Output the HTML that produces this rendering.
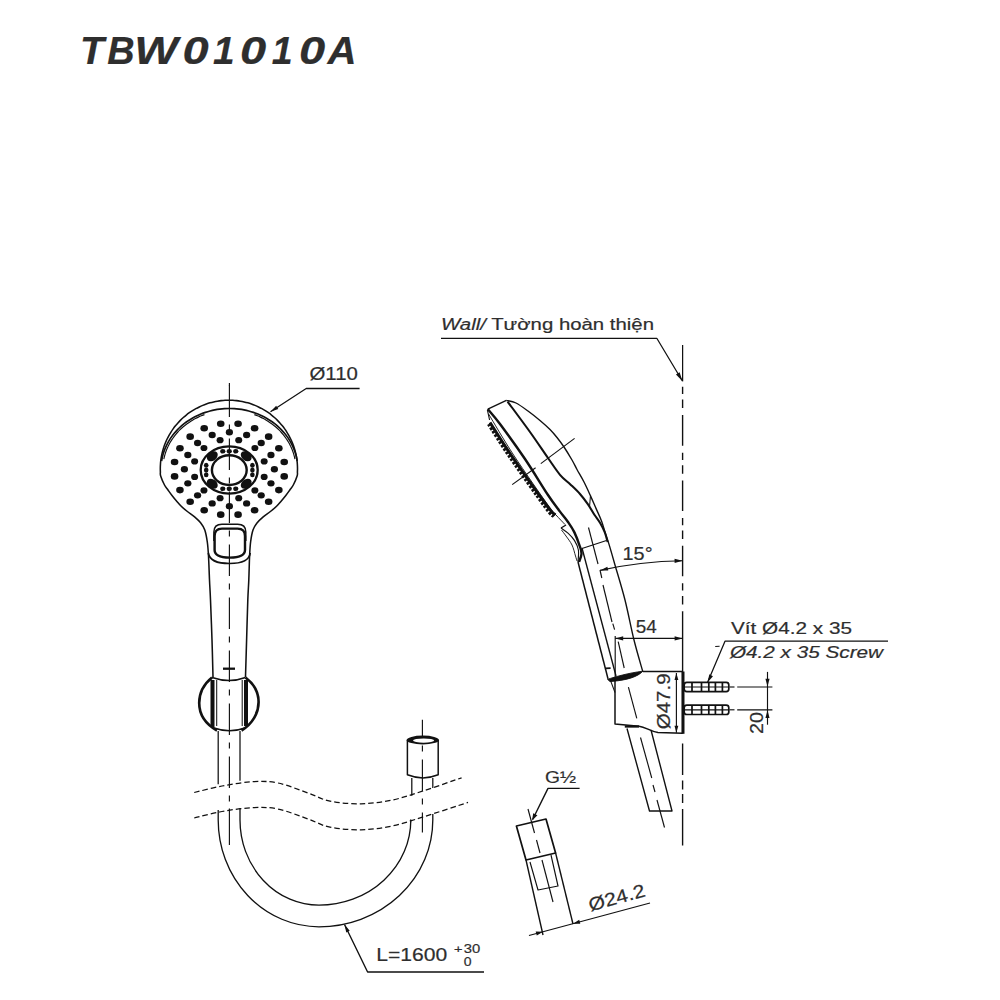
<!DOCTYPE html>
<html><head><meta charset="utf-8"><style>
html,body{margin:0;padding:0;background:#fff;}
svg{display:block;}
text{font-family:"Liberation Sans",sans-serif;fill:#2e2e2e;stroke:#2e2e2e;stroke-width:0.2px;}
</style></head><body>
<svg width="1000" height="1000" viewBox="0 0 1000 1000">
<g fill="none" stroke="#111" stroke-linecap="butt" stroke-linejoin="round">
<line x1="229.4" y1="385.6" x2="229.4" y2="805" stroke-width="1.15" stroke-dasharray="31.5 7.5 6 8"/>
<line x1="229.4" y1="808.5" x2="229.4" y2="845" stroke-width="1.15" />
<line x1="229.4" y1="383" x2="229.4" y2="386" stroke-width="1.15" />
<path d="M213,677 C212.83,670.83 212.42,652.83 212,640 C211.58,627.17 210.92,610 210.5,600 C210.08,590 209.83,587.33 209.5,580 C209.17,572.67 208.87,562.33 208.5,556 C208.13,549.67 207.92,546.33 207.3,542 C206.68,537.67 205.92,533.2 204.8,530 C203.68,526.8 202.3,525 200.6,522.8 C198.9,520.6 196.8,518.68 194.6,516.8 C192.4,514.92 189.67,513.3 187.4,511.5 C185.13,509.7 182.82,507.75 181,506 C179.18,504.25 178,502.75 176.5,501 C175,499.25 173.42,497.33 172,495.5 C170.58,493.67 169.25,491.75 168,490 C166.75,488.25 165.72,487.34 164.5,485 C163.28,482.66 161.36,478.11 160.68,475.97 C159.99,473.83 160.44,473.43 160.38,472.15 C160.32,470.88 160.29,469.6 160.3,468.32 C160.31,467.04 160.36,465.77 160.44,464.49 C160.52,463.22 160.63,461.94 160.78,460.68 C160.93,459.41 161.12,458.14 161.34,456.89 C161.56,455.63 161.82,454.38 162.11,453.14 C162.4,451.89 162.73,450.66 163.09,449.43 C163.45,448.21 163.85,446.99 164.27,445.79 C164.7,444.59 165.17,443.39 165.66,442.22 C166.15,441.04 166.68,439.88 167.24,438.73 C167.8,437.58 168.39,436.45 169.02,435.33 C169.64,434.22 170.3,433.12 170.98,432.04 C171.66,430.96 172.38,429.9 173.12,428.87 C173.86,427.83 174.64,426.81 175.44,425.81 C176.24,424.82 177.07,423.85 177.92,422.9 C178.77,421.95 179.66,421.02 180.56,420.12 C181.47,419.22 182.4,418.35 183.35,417.5 C184.31,416.65 185.29,415.83 186.29,415.04 C187.29,414.25 188.31,413.48 189.36,412.74 C190.4,412.01 191.47,411.3 192.55,410.62 C193.63,409.95 194.73,409.3 195.85,408.69 C196.97,408.07 198.11,407.49 199.26,406.93 C200.41,406.38 201.58,405.86 202.76,405.38 C203.94,404.89 205.13,404.44 206.34,404.02 C207.55,403.6 208.76,403.21 209.99,402.86 C211.22,402.51 212.46,402.19 213.7,401.9 C214.95,401.62 216.2,401.37 217.46,401.16 C218.72,400.95 219.98,400.77 221.25,400.63 C222.52,400.49 223.8,400.38 225.07,400.31 C226.35,400.24 227.62,400.2 228.9,400.2 C230.18,400.2 231.45,400.24 232.73,400.31 C234,400.38 235.28,400.49 236.55,400.63 C237.82,400.77 239.08,400.95 240.34,401.16 C241.6,401.37 242.85,401.62 244.1,401.9 C245.34,402.19 246.58,402.51 247.81,402.86 C249.04,403.21 250.25,403.6 251.46,404.02 C252.67,404.44 253.86,404.89 255.04,405.38 C256.22,405.86 257.39,406.38 258.54,406.93 C259.69,407.49 260.83,408.07 261.95,408.69 C263.07,409.3 264.17,409.95 265.25,410.62 C266.33,411.3 267.4,412.01 268.44,412.74 C269.49,413.48 270.51,414.25 271.51,415.04 C272.51,415.83 273.49,416.65 274.45,417.5 C275.4,418.35 276.33,419.22 277.24,420.12 C278.14,421.02 279.03,421.95 279.88,422.9 C280.73,423.85 281.56,424.82 282.36,425.81 C283.16,426.81 283.94,427.83 284.68,428.87 C285.42,429.9 286.14,430.96 286.82,432.04 C287.5,433.12 288.16,434.22 288.78,435.33 C289.41,436.45 290,437.58 290.56,438.73 C291.12,439.88 291.65,441.04 292.14,442.22 C292.63,443.39 293.1,444.59 293.53,445.79 C293.95,446.99 294.35,448.21 294.71,449.43 C295.07,450.66 295.4,451.89 295.69,453.14 C295.98,454.38 296.24,455.63 296.46,456.89 C296.68,458.14 296.87,459.41 297.02,460.68 C297.17,461.94 297.28,463.22 297.36,464.49 C297.44,465.77 297.49,467.04 297.5,468.32 C297.51,469.6 297.48,470.88 297.42,472.15 C297.36,473.43 297.81,473.83 297.12,475.97 C296.44,478.11 294.52,482.66 293.3,485 C292.08,487.34 291.05,488.25 289.8,490 C288.55,491.75 287.22,493.67 285.8,495.5 C284.38,497.33 282.8,499.25 281.3,501 C279.8,502.75 278.62,504.25 276.8,506 C274.98,507.75 272.67,509.7 270.4,511.5 C268.13,513.3 265.4,514.92 263.2,516.8 C261,518.68 258.9,520.6 257.2,522.8 C255.5,525 254.1,526.8 253,530 C251.9,533.2 251.17,537.67 250.6,542 C250.03,546.33 249.9,549.67 249.6,556 C249.3,562.33 249.1,572.67 248.8,580 C248.5,587.33 248.17,590 247.8,600 C247.43,610 246.98,627.17 246.6,640 C246.22,652.83 245.68,670.83 245.5,677" stroke-width="1.55" />
<path d="M161.57,461.01 C161.71,460.29 162.08,458.13 162.42,456.71 C162.76,455.29 163.16,453.88 163.62,452.48 C164.08,451.09 164.59,449.7 165.15,448.34 C165.72,446.97 166.34,445.62 167.02,444.3 C167.69,442.98 168.42,441.67 169.2,440.39 C169.98,439.12 170.81,437.86 171.69,436.63 C172.57,435.41 173.5,434.21 174.48,433.04 C175.45,431.88 176.48,430.74 177.55,429.64 C178.61,428.54 179.73,427.47 180.88,426.44 C182.03,425.41 183.23,424.42 184.46,423.46 C185.69,422.51 186.97,421.59 188.27,420.72 C189.58,419.85 190.92,419.01 192.29,418.23 C193.67,417.44 195.07,416.69 196.5,415.99 C197.94,415.3 199.4,414.64 200.88,414.04 C202.37,413.43 203.88,412.87 205.41,412.36 C206.94,411.85 208.49,411.39 210.06,410.98 C211.63,410.57 213.21,410.21 214.81,409.9 C216.4,409.59 218.01,409.33 219.63,409.12 C221.25,408.92 222.87,408.76 224.5,408.66 C226.13,408.55 227.77,408.5 229.4,408.5 C231.03,408.5 232.67,408.55 234.3,408.66 C235.93,408.76 237.55,408.92 239.17,409.12 C240.79,409.33 242.4,409.59 243.99,409.9 C245.59,410.21 247.17,410.57 248.74,410.98 C250.31,411.39 251.86,411.85 253.39,412.36 C254.92,412.87 256.43,413.43 257.92,414.04 C259.4,414.64 260.86,415.3 262.3,415.99 C263.73,416.69 265.13,417.44 266.51,418.23 C267.88,419.01 269.22,419.85 270.53,420.72 C271.83,421.59 273.11,422.51 274.34,423.46 C275.57,424.42 276.77,425.41 277.92,426.44 C279.07,427.47 280.19,428.54 281.25,429.64 C282.32,430.74 283.35,431.88 284.32,433.04 C285.3,434.21 286.23,435.41 287.11,436.63 C287.99,437.86 288.82,439.12 289.6,440.39 C290.38,441.67 291.11,442.98 291.78,444.3 C292.46,445.62 293.08,446.97 293.65,448.34 C294.21,449.7 294.72,451.09 295.18,452.48 C295.64,453.88 296.04,455.29 296.38,456.71 C296.72,458.13 297.09,460.29 297.23,461.01" stroke-width="1.67" />
<path d="M204.45,414.61 C203.94,414.81 202.38,415.38 201.36,415.8 C200.34,416.22 199.33,416.67 198.34,417.13 C197.35,417.6 196.36,418.09 195.4,418.6 C194.43,419.11 193.48,419.64 192.54,420.19 C191.61,420.74 190.69,421.32 189.78,421.91 C188.88,422.51 187.99,423.12 187.13,423.75 C186.26,424.39 185.41,425.04 184.58,425.71 C183.75,426.39 182.93,427.08 182.14,427.79 C181.35,428.49 180.58,429.22 179.83,429.96 C179.08,430.71 178.35,431.47 177.64,432.24 C176.94,433.02 176.25,433.81 175.59,434.62 C174.93,435.43 174.29,436.25 173.67,437.08 C173.06,437.92 172.46,438.77 171.9,439.63 C171.33,440.49 170.79,441.37 170.27,442.26 C169.75,443.14 169.26,444.04 168.8,444.95 C168.33,445.86 167.89,446.78 167.48,447.71 C167.06,448.64 166.68,449.57 166.32,450.52 C165.96,451.47 165.62,452.42 165.32,453.38 C165.01,454.34 164.73,455.31 164.48,456.28 C164.23,457.26 163.92,458.73 163.81,459.22" stroke-width="1.15" />
<path d="M254.35,414.61 C254.86,414.81 256.42,415.38 257.44,415.8 C258.46,416.22 259.47,416.67 260.46,417.13 C261.45,417.6 262.44,418.09 263.4,418.6 C264.37,419.11 265.32,419.64 266.26,420.19 C267.19,420.74 268.11,421.32 269.02,421.91 C269.92,422.51 270.81,423.12 271.67,423.75 C272.54,424.39 273.39,425.04 274.22,425.71 C275.05,426.39 275.87,427.08 276.66,427.79 C277.45,428.49 278.22,429.22 278.97,429.96 C279.72,430.71 280.45,431.47 281.16,432.24 C281.86,433.02 282.55,433.81 283.21,434.62 C283.87,435.43 284.51,436.25 285.13,437.08 C285.74,437.92 286.34,438.77 286.9,439.63 C287.47,440.49 288.01,441.37 288.53,442.26 C289.05,443.14 289.54,444.04 290,444.95 C290.47,445.86 290.91,446.78 291.32,447.71 C291.74,448.64 292.12,449.57 292.48,450.52 C292.84,451.47 293.18,452.42 293.48,453.38 C293.79,454.34 294.07,455.31 294.32,456.28 C294.57,457.26 294.88,458.73 294.99,459.22" stroke-width="1.15" />
<ellipse cx="238.08" cy="423.77" rx="3.8" ry="3.3" fill="#111" stroke="none" transform="rotate(0 238.08 423.77)"/>
<ellipse cx="254.6" cy="428.21" rx="3.8" ry="3.3" fill="#111" stroke="none" transform="rotate(0 254.6 428.21)"/>
<ellipse cx="268.64" cy="436.67" rx="3.8" ry="3.3" fill="#111" stroke="none" transform="rotate(0 268.64 436.67)"/>
<ellipse cx="278.85" cy="448.32" rx="3.8" ry="3.3" fill="#111" stroke="none" transform="rotate(0 278.85 448.32)"/>
<ellipse cx="284.22" cy="462" rx="3.8" ry="3.3" fill="#111" stroke="none" transform="rotate(0 284.22 462)"/>
<ellipse cx="284.22" cy="476.4" rx="3.8" ry="3.3" fill="#111" stroke="none" transform="rotate(0 284.22 476.4)"/>
<ellipse cx="278.85" cy="490.08" rx="3.8" ry="3.3" fill="#111" stroke="none" transform="rotate(0 278.85 490.08)"/>
<ellipse cx="268.64" cy="501.73" rx="3.8" ry="3.3" fill="#111" stroke="none" transform="rotate(0 268.64 501.73)"/>
<ellipse cx="254.6" cy="510.19" rx="3.8" ry="3.3" fill="#111" stroke="none" transform="rotate(0 254.6 510.19)"/>
<ellipse cx="238.08" cy="514.63" rx="3.8" ry="3.3" fill="#111" stroke="none" transform="rotate(0 238.08 514.63)"/>
<ellipse cx="220.72" cy="514.63" rx="3.8" ry="3.3" fill="#111" stroke="none" transform="rotate(0 220.72 514.63)"/>
<ellipse cx="204.2" cy="510.19" rx="3.8" ry="3.3" fill="#111" stroke="none" transform="rotate(0 204.2 510.19)"/>
<ellipse cx="190.16" cy="501.73" rx="3.8" ry="3.3" fill="#111" stroke="none" transform="rotate(0 190.16 501.73)"/>
<ellipse cx="179.95" cy="490.08" rx="3.8" ry="3.3" fill="#111" stroke="none" transform="rotate(0 179.95 490.08)"/>
<ellipse cx="174.58" cy="476.4" rx="3.8" ry="3.3" fill="#111" stroke="none" transform="rotate(0 174.58 476.4)"/>
<ellipse cx="174.58" cy="462" rx="3.8" ry="3.3" fill="#111" stroke="none" transform="rotate(0 174.58 462)"/>
<ellipse cx="179.95" cy="448.32" rx="3.8" ry="3.3" fill="#111" stroke="none" transform="rotate(0 179.95 448.32)"/>
<ellipse cx="190.16" cy="436.67" rx="3.8" ry="3.3" fill="#111" stroke="none" transform="rotate(0 190.16 436.67)"/>
<ellipse cx="204.2" cy="428.21" rx="3.8" ry="3.3" fill="#111" stroke="none" transform="rotate(0 204.2 428.21)"/>
<ellipse cx="220.72" cy="423.77" rx="3.8" ry="3.3" fill="#111" stroke="none" transform="rotate(0 220.72 423.77)"/>
<ellipse cx="229.4" cy="432.2" rx="3.6" ry="3.2" fill="#111" stroke="none" transform="rotate(0 229.4 432.2)"/>
<ellipse cx="246.62" cy="435.02" rx="3.6" ry="3.2" fill="#111" stroke="none" transform="rotate(0 246.62 435.02)"/>
<ellipse cx="261.22" cy="443.04" rx="3.6" ry="3.2" fill="#111" stroke="none" transform="rotate(0 261.22 443.04)"/>
<ellipse cx="270.97" cy="455.04" rx="3.6" ry="3.2" fill="#111" stroke="none" transform="rotate(0 270.97 455.04)"/>
<ellipse cx="274.4" cy="469.2" rx="3.6" ry="3.2" fill="#111" stroke="none" transform="rotate(0 274.4 469.2)"/>
<ellipse cx="270.97" cy="483.36" rx="3.6" ry="3.2" fill="#111" stroke="none" transform="rotate(0 270.97 483.36)"/>
<ellipse cx="261.22" cy="495.36" rx="3.6" ry="3.2" fill="#111" stroke="none" transform="rotate(0 261.22 495.36)"/>
<ellipse cx="246.62" cy="503.38" rx="3.6" ry="3.2" fill="#111" stroke="none" transform="rotate(0 246.62 503.38)"/>
<ellipse cx="229.4" cy="506.2" rx="3.6" ry="3.2" fill="#111" stroke="none" transform="rotate(0 229.4 506.2)"/>
<ellipse cx="212.18" cy="503.38" rx="3.6" ry="3.2" fill="#111" stroke="none" transform="rotate(0 212.18 503.38)"/>
<ellipse cx="197.58" cy="495.36" rx="3.6" ry="3.2" fill="#111" stroke="none" transform="rotate(0 197.58 495.36)"/>
<ellipse cx="187.83" cy="483.36" rx="3.6" ry="3.2" fill="#111" stroke="none" transform="rotate(0 187.83 483.36)"/>
<ellipse cx="184.4" cy="469.2" rx="3.6" ry="3.2" fill="#111" stroke="none" transform="rotate(0 184.4 469.2)"/>
<ellipse cx="187.83" cy="455.04" rx="3.6" ry="3.2" fill="#111" stroke="none" transform="rotate(0 187.83 455.04)"/>
<ellipse cx="197.58" cy="443.04" rx="3.6" ry="3.2" fill="#111" stroke="none" transform="rotate(0 197.58 443.04)"/>
<ellipse cx="212.18" cy="435.02" rx="3.6" ry="3.2" fill="#111" stroke="none" transform="rotate(0 212.18 435.02)"/>
<ellipse cx="238.72" cy="440.22" rx="3.5" ry="3.1" fill="#111" stroke="none" transform="rotate(0 238.72 440.22)"/>
<ellipse cx="254.86" cy="447.99" rx="3.5" ry="3.1" fill="#111" stroke="none" transform="rotate(0 254.86 447.99)"/>
<ellipse cx="264.17" cy="461.44" rx="3.5" ry="3.1" fill="#111" stroke="none" transform="rotate(0 264.17 461.44)"/>
<ellipse cx="264.17" cy="476.96" rx="3.5" ry="3.1" fill="#111" stroke="none" transform="rotate(0 264.17 476.96)"/>
<ellipse cx="254.86" cy="490.41" rx="3.5" ry="3.1" fill="#111" stroke="none" transform="rotate(0 254.86 490.41)"/>
<ellipse cx="238.72" cy="498.18" rx="3.5" ry="3.1" fill="#111" stroke="none" transform="rotate(0 238.72 498.18)"/>
<ellipse cx="220.08" cy="498.18" rx="3.5" ry="3.1" fill="#111" stroke="none" transform="rotate(0 220.08 498.18)"/>
<ellipse cx="203.94" cy="490.41" rx="3.5" ry="3.1" fill="#111" stroke="none" transform="rotate(0 203.94 490.41)"/>
<ellipse cx="194.63" cy="476.96" rx="3.5" ry="3.1" fill="#111" stroke="none" transform="rotate(0 194.63 476.96)"/>
<ellipse cx="194.63" cy="461.44" rx="3.5" ry="3.1" fill="#111" stroke="none" transform="rotate(0 194.63 461.44)"/>
<ellipse cx="203.94" cy="447.99" rx="3.5" ry="3.1" fill="#111" stroke="none" transform="rotate(0 203.94 447.99)"/>
<ellipse cx="220.08" cy="440.22" rx="3.5" ry="3.1" fill="#111" stroke="none" transform="rotate(0 220.08 440.22)"/>
<ellipse cx="229.2" cy="470" rx="28.5" ry="23.6" stroke-width="2.3" />
<ellipse cx="229.3" cy="470.1" rx="17.4" ry="14.9" stroke-width="2.42" />
<ellipse cx="212.3" cy="456.2" rx="6" ry="4.4" fill="#111" stroke="none" transform="rotate(-38 212.3 456.2)"/>
<ellipse cx="246.2" cy="456.2" rx="6" ry="4.4" fill="#111" stroke="none" transform="rotate(38 246.2 456.2)"/>
<ellipse cx="212.3" cy="483.8" rx="6" ry="4.4" fill="#111" stroke="none" transform="rotate(38 212.3 483.8)"/>
<ellipse cx="246.2" cy="483.8" rx="6" ry="4.4" fill="#111" stroke="none" transform="rotate(-38 246.2 483.8)"/>
<ellipse cx="222.8" cy="451.3" rx="2.6" ry="2.3" fill="#111" stroke="none" transform="rotate(0 222.8 451.3)"/>
<ellipse cx="222.8" cy="488.8" rx="2.6" ry="2.3" fill="#111" stroke="none" transform="rotate(0 222.8 488.8)"/>
<ellipse cx="229.3" cy="451.3" rx="2.6" ry="2.3" fill="#111" stroke="none" transform="rotate(0 229.3 451.3)"/>
<ellipse cx="229.3" cy="488.8" rx="2.6" ry="2.3" fill="#111" stroke="none" transform="rotate(0 229.3 488.8)"/>
<ellipse cx="235.8" cy="451.3" rx="2.6" ry="2.3" fill="#111" stroke="none" transform="rotate(0 235.8 451.3)"/>
<ellipse cx="235.8" cy="488.8" rx="2.6" ry="2.3" fill="#111" stroke="none" transform="rotate(0 235.8 488.8)"/>
<ellipse cx="206.2" cy="465.2" rx="2.3" ry="2.5" fill="#111" stroke="none" transform="rotate(0 206.2 465.2)"/>
<ellipse cx="252.4" cy="465.2" rx="2.3" ry="2.5" fill="#111" stroke="none" transform="rotate(0 252.4 465.2)"/>
<ellipse cx="206.2" cy="470" rx="2.3" ry="2.5" fill="#111" stroke="none" transform="rotate(0 206.2 470)"/>
<ellipse cx="252.4" cy="470" rx="2.3" ry="2.5" fill="#111" stroke="none" transform="rotate(0 252.4 470)"/>
<ellipse cx="206.2" cy="474.8" rx="2.3" ry="2.5" fill="#111" stroke="none" transform="rotate(0 206.2 474.8)"/>
<ellipse cx="252.4" cy="474.8" rx="2.3" ry="2.5" fill="#111" stroke="none" transform="rotate(0 252.4 474.8)"/>
<path d="M222,528.6 L237.6,528.6 Q245,528.6 245,536 L245,550 Q245,557.6 229.8,557.6 Q214.6,557.6 214.6,550 L214.6,536 Q214.6,528.6 222,528.6 Z" stroke-width="2.42" />
<path d="M213.9,541 L213.9,532 Q213.9,524.3 222,524.3 L237.6,524.3 Q245.8,524.3 245.8,532 L245.8,541" stroke-width="1.49" />
<path d="M208.3,553 Q210,563.5 229.5,563.5 Q249,563.5 250.2,553" stroke-width="1.72" />
<line x1="223" y1="668.7" x2="235" y2="668.7" stroke-width="2.3" />
<path d="M212,677.5 Q229.5,683.5 245.5,677.5" stroke-width="1.61" />
<path d="M212,677.5 C204,684 199.2,693 199.2,703 C199.2,714 205.5,724 217,730.5" stroke-width="2.64" />
<path d="M245.5,677.5 C254,684 258.6,693 258.6,702 C258.6,713 252.5,724 241.5,730.5" stroke-width="2.64" />
<path d="M214,728 Q229.5,733.5 245,728" stroke-width="1.61" />
<rect x="210.5" y="680" width="4" height="47" fill="#111" stroke="none"/>
<rect x="244" y="680" width="4" height="46" fill="#111" stroke="none"/>
<line x1="216.7" y1="680" x2="216.7" y2="726" stroke-width="1.03" />
<line x1="242.2" y1="680" x2="242.2" y2="726" stroke-width="1.03" />
<line x1="218.2" y1="731" x2="218.2" y2="784.3" stroke-width="1.26" />
<line x1="240" y1="731" x2="240" y2="780.7" stroke-width="1.26" />
<path d="M218.2,810 L218.2,820 A101,106.8 0 0 0 319,926.8 A113.8,106.8 0 0 0 432.8,820 L432.8,814" stroke-width="1.32" />
<path d="M240,808 L240,820 A79,85.2 0 0 0 319,905.2 A91.8,85.2 0 0 0 410.8,820 L410.8,822.5" stroke-width="1.32" />
<line x1="411.8" y1="778" x2="411.8" y2="795.8" stroke-width="1.26" />
<line x1="432.8" y1="778" x2="432.8" y2="788" stroke-width="1.26" />
<path d="M407.4,740 L407.4,774.8 Q423,781 438.2,774.8 L438.2,740" stroke-width="1.49" />
<ellipse cx="422.8" cy="740" rx="16.2" ry="4.4" fill="#111" stroke="none"/>
<ellipse cx="423.6" cy="740.6" rx="10.6" ry="2.1" fill="#fff" stroke="none"/>
<line x1="422.4" y1="719.8" x2="422.4" y2="832.6" stroke-width="1.15" stroke-dasharray="31.5 7.5 6 8" stroke-dashoffset="13.4"/>
<path d="M194.2,792.5 C198.83,791.42 212.37,787.8 222,786 C231.63,784.2 242.67,782.2 252,781.7 C261.33,781.2 268.5,781.05 278,783 C287.5,784.95 300.33,790.37 309,793.4 C317.67,796.43 321.33,799.47 330,801.2 C338.67,802.93 350.6,804 361,803.8 C371.4,803.6 381.97,802.17 392.4,800 C402.83,797.83 412.07,794.5 423.6,790.8 C435.13,787.1 455.27,779.97 461.6,777.8" stroke-width="1.26" stroke-dasharray="5.5 3"/>
<path d="M194.2,818 C198.83,816.92 212.37,813.22 222,811.5 C231.63,809.78 242.67,808.12 252,807.7 C261.33,807.28 268.5,807.05 278,809 C287.5,810.95 300.33,816.37 309,819.4 C317.67,822.43 321.33,825.47 330,827.2 C338.67,828.93 350.6,830.02 361,829.8 C371.4,829.58 381.97,828.07 392.4,825.9 C402.83,823.73 411,820.72 423.6,816.8 C436.2,812.88 460.6,804.8 468,802.4" stroke-width="1.26" stroke-dasharray="5.5 3"/>
<path d="M344.5,924.5 L349.73,930.85 L346.28,932.53 Z" fill="#111" stroke="none"/>
<path d="M344.5,924.5 L367.6,972 L484,972" stroke-width="1.38" />
<path d="M270.5,411.7 L276.16,405.73 L278.25,408.95 Z" fill="#111" stroke="none"/>
<path d="M270.5,411.7 L306.2,388.5 L359.6,388.5" stroke-width="1.26" />
<line x1="682.6" y1="345" x2="682.6" y2="381.4" stroke-width="1.26" />
<line x1="682.6" y1="386.8" x2="682.6" y2="611.6" stroke-width="1.38" stroke-dasharray="7.2 5.4 8.5 7.2 30.6 7 7.2 5.4 8.5 6.6 30.6 7 7.2 5.4 8.5 6.6 30.6 7 7.2 5.4 8.5 6.6 30.6 7"/>
<line x1="682.6" y1="611.6" x2="682.6" y2="733.5" stroke-width="1.38" />
<line x1="682.6" y1="743.5" x2="682.6" y2="845.5" stroke-width="1.38" stroke-dasharray="31.5 5.5 9 4.5 9 6 37 10"/>
<path d="M682.4,381 L675.92,374.39 L679.62,372.17 Z" fill="#111" stroke="none"/>
<path d="M441,338.3 L656.8,338.3 L682.4,381" stroke-width="1.26" />
<path d="M487.8,409.1 L506.4,400.4" stroke-width="1.38" />
<path d="M506.4,400.4 C508,400.83 512.4,401.23 516,403 C519.6,404.77 524,408.08 528,411 C532,413.92 536.33,417.42 540,420.5 C543.67,423.58 547.17,426.67 550,429.5 C552.83,432.33 554.67,434.58 557,437.5 C559.33,440.42 561.5,443.25 564,447 C566.5,450.75 569.83,456.25 572,460 C574.17,463.75 575,465.83 577,469.5 C579,473.17 581.77,477.65 584,482 C586.23,486.35 588.4,491.2 590.4,495.6 C592.4,500 594.13,504.13 596,508.4 C597.87,512.67 600,516.93 601.6,521.2 C603.2,525.47 604.4,530.27 605.6,534 C606.8,537.73 607.9,540.77 608.8,543.6 C609.7,546.43 609.97,547.43 611,551 C612.03,554.57 612.67,556.83 615,565 C617.33,573.17 621.83,587.5 625,600 C628.17,612.5 631.03,628.07 634,640 C636.97,651.93 641.33,666.33 642.8,671.6" stroke-width="1.38" />
<path d="M487.8,409.1 C489.83,411.58 493.8,415.68 500,424 C506.2,432.32 517,447.17 525,459 C533,470.83 542.17,486.23 548,495 C553.83,503.77 556.67,507.1 560,511.6 C563.33,516.1 565.6,518.53 568,522 C570.4,525.47 572.4,528.27 574.4,532.4 C576.4,536.53 578.82,543.2 580,546.8 C581.18,550.4 581.67,551.47 581.5,554 C581.33,556.53 579.42,560.67 579,562" stroke-width="2.42" />
<path d="M507.6,401.6 C511.33,406.67 523.27,422.6 530,432 C536.73,441.4 543,450.87 548,458 C553,465.13 556.27,470.4 560,474.8 C563.73,479.2 567.07,481.2 570.4,484.4 C573.73,487.6 577.07,490.67 580,494 C582.93,497.33 585.6,500.93 588,504.4 C590.4,507.87 592.4,511.73 594.4,514.8 C596.4,517.87 598.27,519.87 600,522.8 C601.73,525.73 603.53,529.2 604.8,532.4 C606.07,535.6 607.13,540.4 607.6,542" stroke-width="2.07" />
<line x1="590.4" y1="496.4" x2="589.6" y2="506" stroke-width="1.03" />
<path d="M487.4,410 L489.6,420" stroke-width="1.15" />
<path d="M488.6,414 C492.77,420.83 503.37,439.33 513.6,455 C523.83,470.67 542.93,498 550,508 C557.07,518 553.5,512.25 556,515 C558.5,517.75 563.5,522.92 565,524.5" stroke-width="0.92" />
<path d="M490,422.5 C493.57,428 501.93,441.67 511.4,455.5 C520.87,469.33 539.5,495.62 546.8,505.5 C554.1,515.38 553.8,513.25 555.2,514.8" stroke-width="2.99" />
<path d="M489.2,423.8 C492.77,429.3 501.13,442.97 510.6,456.8 C520.07,470.63 538.7,496.93 546,506.8 C553.3,516.67 553,514.47 554.4,516" stroke-width="4.83" stroke-dasharray="2.6 1.5"/>
<path d="M561,528 L566,525" stroke-width="1.38" />
<path d="M561,528 C562.17,528.87 565.77,531.13 568,533.2 C570.23,535.27 572.67,537.6 574.4,540.4 C576.13,543.2 577.8,546.4 578.4,550 C579,553.6 578.07,560 578,562" stroke-width="1.15" />
<path d="M561.5,530 C562.25,531 564.25,533.5 566,536 C567.75,538.5 570.42,541.67 572,545 C573.58,548.33 574.67,553.33 575.5,556 C576.33,558.67 576.75,560.17 577,561" stroke-width="0.92" />
<line x1="512.2" y1="484.6" x2="535.6" y2="467.8" stroke-width="1.15" />
<line x1="540.8" y1="463.6" x2="574.6" y2="438.4" stroke-width="1.15" />
<path d="M578,562 L608,678.8" stroke-width="1.49" />
<path d="M582,548 L616,676" stroke-width="1.38" />
<line x1="605.3" y1="668.3" x2="610.6" y2="668.1" stroke-width="1.84" />
<line x1="588.5" y1="527.5" x2="598" y2="564" stroke-width="1.15" />
<line x1="600" y1="570" x2="601.8" y2="578" stroke-width="1.15" />
<line x1="603" y1="585" x2="612" y2="622" stroke-width="1.15" />
<line x1="612.8" y1="623.6" x2="614.6" y2="629.6" stroke-width="1.15" />
<line x1="618.2" y1="641.6" x2="624.2" y2="668" stroke-width="1.15" />
<line x1="628.4" y1="687.2" x2="636.8" y2="718.4" stroke-width="1.15" />
<line x1="640.5" y1="737.5" x2="651.75" y2="778" stroke-width="1.15" />
<line x1="653" y1="785" x2="655" y2="792" stroke-width="1.15" />
<line x1="657" y1="800" x2="664.5" y2="827.5" stroke-width="1.15" />
<line x1="582" y1="548.5" x2="606.5" y2="540.5" stroke-width="1.15" />
<path d="M642.8,671.6 L682.6,671.6" stroke-width="1.49" />
<path d="M607.5,679.3 C615,677 628,673 642.8,671.2 C638,676.5 628,680.2 610,681.6 Z" fill="#111" stroke="#111" stroke-width="0.9"/>
<line x1="610.5" y1="680.5" x2="615" y2="692.5" stroke-width="1.03" />
<path d="M615,680 L615,724 L639,726.2 C646,727 650,731.5 658,732.5 L682.6,733.2" stroke-width="1.49" />
<line x1="683" y1="671.5" x2="683" y2="733.8" stroke-width="2.99" />
<line x1="615.2" y1="636" x2="615.2" y2="680" stroke-width="1.15" />
<path d="M624.8,726.5 L639,726.5" stroke-width="2.3" />
<path d="M627,728.5 L649.5,811 L672,811 L651,730" stroke-width="1.38" />
<line x1="676.4" y1="673" x2="676.4" y2="732.8" stroke-width="1.15" />
<path d="M676.4,673 L678.32,680 L674.48,680 Z" fill="#111" stroke="none"/>
<path d="M676.4,732.8 L674.48,725.8 L678.32,725.8 Z" fill="#111" stroke="none"/>
<line x1="615.2" y1="638.4" x2="682.6" y2="638.4" stroke-width="1.15" />
<path d="M615.2,638.4 L623.2,636.36 L623.2,640.44 Z" fill="#111" stroke="none"/>
<path d="M682.6,638.4 L674.6,640.44 L674.6,636.36 Z" fill="#111" stroke="none"/>
<path d="M600,570.4 Q640,561.5 682.6,560.8" stroke-width="1.15" />
<path d="M600,570.4 L607.35,566.64 L608.25,570.62 Z" fill="#111" stroke="none"/>
<path d="M682.6,560.8 L674.62,562.93 L674.58,558.85 Z" fill="#111" stroke="none"/>
<rect x="684.2" y="682.3" width="44.6" height="9.4" rx="2.6" fill="none" stroke-width="1.7"/>
<line x1="692" y1="682.4" x2="692" y2="691.6" stroke-width="1.72" />
<line x1="701.5" y1="682.4" x2="701.5" y2="691.6" stroke-width="1.72" />
<line x1="708.8" y1="682.4" x2="708.8" y2="691.6" stroke-width="1.72" />
<line x1="715.4" y1="682.4" x2="715.4" y2="691.6" stroke-width="1.72" />
<line x1="722.4" y1="682.4" x2="722.4" y2="691.6" stroke-width="1.72" />
<line x1="684" y1="687" x2="729" y2="687" stroke-width="1.15" />
<line x1="729.5" y1="687" x2="734.5" y2="687" stroke-width="1.15" />
<line x1="737.2" y1="687" x2="772.4" y2="687" stroke-width="1.15" />
<rect x="684.2" y="705.1" width="44.6" height="9.4" rx="2.6" fill="none" stroke-width="1.7"/>
<line x1="692" y1="705.2" x2="692" y2="714.4" stroke-width="1.72" />
<line x1="701.5" y1="705.2" x2="701.5" y2="714.4" stroke-width="1.72" />
<line x1="708.8" y1="705.2" x2="708.8" y2="714.4" stroke-width="1.72" />
<line x1="715.4" y1="705.2" x2="715.4" y2="714.4" stroke-width="1.72" />
<line x1="722.4" y1="705.2" x2="722.4" y2="714.4" stroke-width="1.72" />
<line x1="684" y1="709.8" x2="729" y2="709.8" stroke-width="1.15" />
<line x1="729.5" y1="709.8" x2="734.5" y2="709.8" stroke-width="1.15" />
<line x1="737.2" y1="709.8" x2="772.4" y2="709.8" stroke-width="1.15" />
<line x1="767.5" y1="671.9" x2="767.5" y2="724.7" stroke-width="1.15" />
<path d="M767.5,686.8 L765.46,678.8 L769.54,678.8 Z" fill="#111" stroke="none"/>
<path d="M767.5,709.9 L769.54,717.9 L765.46,717.9 Z" fill="#111" stroke="none"/>
<path d="M707.5,682.4 L709.33,674.35 L712.96,676.21 Z" fill="#111" stroke="none"/>
<path d="M707.5,682.4 L725,641.2 L888,641.2" stroke-width="1.26" />
<line x1="715.2" y1="646.6" x2="719.6" y2="646.2" stroke-width="1.03" />
<path d="M516.4,826 L546,819 L555.6,853 L526,860 Z" stroke-width="1.72" />
<path d="M526,860 L543,935" stroke-width="1.38" />
<path d="M555.6,853 L573,924" stroke-width="1.38" />
<path d="M530,862 L538,890 L558,886 L551,855" stroke-width="1.15" />
<line x1="528" y1="809" x2="534.5" y2="833" stroke-width="1.15" />
<line x1="536.5" y1="840" x2="540" y2="853" stroke-width="1.15" />
<line x1="542" y1="860" x2="553" y2="902" stroke-width="1.15" />
<path d="M532.2,820.5 L533.14,813.16 L537.44,815.28 Z" fill="#111" stroke="none"/>
<path d="M532.6,819.5 L548,788.4 L579.6,788.4" stroke-width="1.38" />
<line x1="529" y1="935.5" x2="650" y2="903" stroke-width="1.26" />
<path d="M543,931.7 L536.78,935.5 L535.71,931.56 Z" fill="#111" stroke="none"/>
<path d="M573,923.7 L579.2,919.87 L580.29,923.8 Z" fill="#111" stroke="none"/>
</g>
<text transform="translate(79.95,63.6) scale(1.035,1)" x="0" y="0" font-size="38" font-weight="bold" font-style="italic" fill="#38332f" stroke="#38332f" stroke-width="0.9">T</text>
<text transform="translate(107.24,63.6) scale(0.997,1)" x="0" y="0" font-size="38" font-weight="bold" font-style="italic" fill="#38332f" stroke="#38332f" stroke-width="0.9">B</text>
<text transform="translate(134.26,63.6) scale(1.218,1)" x="0" y="0" font-size="38" font-weight="bold" font-style="italic" fill="#38332f" stroke="#38332f" stroke-width="0.9">W</text>
<text transform="translate(182.52,63.6) scale(1.238,1)" x="0" y="0" font-size="38" font-weight="bold" font-style="italic" fill="#38332f" stroke="#38332f" stroke-width="0.9">0</text>
<text transform="translate(213.03,63.6) scale(1.020,1)" x="0" y="0" font-size="38" font-weight="bold" font-style="italic" fill="#38332f" stroke="#38332f" stroke-width="0.9">1</text>
<text transform="translate(240.12,63.6) scale(1.238,1)" x="0" y="0" font-size="38" font-weight="bold" font-style="italic" fill="#38332f" stroke="#38332f" stroke-width="0.9">0</text>
<text transform="translate(271.85,63.6) scale(0.987,1)" x="0" y="0" font-size="38" font-weight="bold" font-style="italic" fill="#38332f" stroke="#38332f" stroke-width="0.9">1</text>
<text transform="translate(299.12,63.6) scale(1.238,1)" x="0" y="0" font-size="38" font-weight="bold" font-style="italic" fill="#38332f" stroke="#38332f" stroke-width="0.9">0</text>
<text transform="translate(327.4,63.6) scale(1.057,1)" x="0" y="0" font-size="38" font-weight="bold" font-style="italic" fill="#38332f" stroke="#38332f" stroke-width="0.9">A</text>
<text x="309.5" y="379.8" font-size="18.5" textLength="48.4" lengthAdjust="spacingAndGlyphs">Ø110</text>
<text x="441" y="329.7" font-size="17.2" textLength="213" lengthAdjust="spacingAndGlyphs"><tspan font-style="italic">Wall/</tspan> Tường hoàn thiện</text>
<text x="376.2" y="960.7" font-size="19" textLength="71" lengthAdjust="spacingAndGlyphs">L=1600</text>
<text x="454" y="952.6" font-size="11" textLength="8.5" lengthAdjust="spacingAndGlyphs">+</text>
<text x="463.8" y="952.8" font-size="13.4" textLength="16.5" lengthAdjust="spacingAndGlyphs">30</text>
<text x="463.8" y="965.8" font-size="13.4" textLength="7.8" lengthAdjust="spacingAndGlyphs">0</text>
<text x="622.6" y="559.6" font-size="18.5" textLength="30" lengthAdjust="spacingAndGlyphs">15°</text>
<text x="635.8" y="632.8" font-size="18.5" textLength="21" lengthAdjust="spacingAndGlyphs">54</text>
<text x="731" y="634" font-size="17" textLength="121" lengthAdjust="spacingAndGlyphs">Vít Ø4.2 x 35</text>
<text x="730" y="658" font-size="17" font-style="italic" textLength="153" lengthAdjust="spacingAndGlyphs">Ø4.2 x 35 Screw</text>
<text x="545" y="783" font-size="16.5" textLength="31" lengthAdjust="spacingAndGlyphs">G½</text>
<text transform="translate(669.8,729.2) rotate(-90)" x="0" y="0" font-size="18" textLength="55.8" lengthAdjust="spacingAndGlyphs">Ø47.9</text>
<text transform="translate(763,734) rotate(-90)" x="0" y="0" font-size="18" textLength="22" lengthAdjust="spacingAndGlyphs">20</text>
<text transform="translate(590.5,911.5) rotate(-15.5)" x="0" y="0" font-size="18.5" textLength="58" lengthAdjust="spacingAndGlyphs">Ø24.2</text>
</svg>
</body></html>
